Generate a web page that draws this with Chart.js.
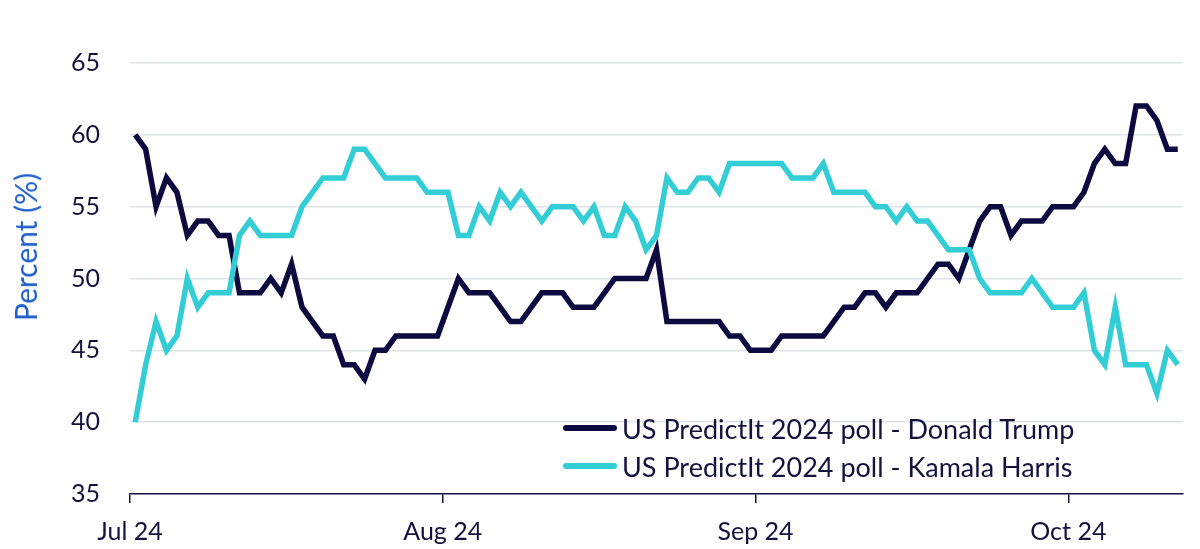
<!DOCTYPE html>
<html>
<head>
<meta charset="utf-8">
<script src="https://cdn.jsdelivr.net/npm/chart.js@4.4.1/dist/chart.umd.min.js"></script>
<style>
    html, body { margin: 0; padding: 0; background: #ffffff; }
    #wrap { position: relative; width: 1200px; height: 549px; }
    #legend {
        position: absolute; left: 563px; top: 409px;
        font-family: Lato, "Open Sans", sans-serif; font-size: 27px; color: #13123f;
    }
    .item { display: flex; align-items: center; height: 38px; white-space: nowrap; }
    .swatch { width: 54px; height: 6px; border-radius: 3px; margin-right: 5px; }
    #ytitle {
        position: absolute; left: 25px; top: 247px;
        transform: translate(-50%, -50%) rotate(-90deg);
        font-family: Lato, "Open Sans", sans-serif; font-size: 30px; color: #1f5fcc;
        white-space: nowrap;
    }
</style>
</head>
<body>
<div id="wrap">
    <canvas id="chart" width="1200" height="549"></canvas>
    <div id="ytitle">Percent (%)</div>
    <div id="legend"></div>
</div>
<script>
// Daily PredictIt prices, Jul 1 onwards (one value per day)
const trump = [
    60, 59, 55, 57, 56, 53, 54, 54, 53, 53,
    49, 49, 49, 50, 49, 51, 48, 47, 46, 46,
    44, 44, 43, 45, 45, 46, 46, 46, 46, 46,
    48, 50, 49, 49, 49, 48, 47, 47, 48, 49,
    49, 49, 48, 48, 48, 49, 50, 50, 50, 50,
    52, 47, 47, 47, 47, 47, 47, 46, 46, 45,
    45, 45, 46, 46, 46, 46, 46, 47, 48, 48,
    49, 49, 48, 49, 49, 49, 50, 51, 51, 50,
    52, 54, 55, 55, 53, 54, 54, 54, 55, 55,
    55, 56, 58, 59, 58, 58, 62, 62, 61, 59,
    59
];
const harris = [
    40, 44, 47, 45, 46, 50, 48, 49, 49, 49,
    53, 54, 53, 53, 53, 53, 55, 56, 57, 57,
    57, 59, 59, 58, 57, 57, 57, 57, 56, 56,
    56, 53, 53, 55, 54, 56, 55, 56, 55, 54,
    55, 55, 55, 54, 55, 53, 53, 55, 54, 52,
    53, 57, 56, 56, 57, 57, 56, 58, 58, 58,
    58, 58, 58, 57, 57, 57, 58, 56, 56, 56,
    56, 55, 55, 54, 55, 54, 54, 53, 52, 52,
    52, 50, 49, 49, 49, 49, 50, 49, 48, 48,
    48, 49, 45, 44, 48, 44, 44, 44, 42, 45,
    44
];
const seriesNames = ['US PredictIt 2024 poll - Donald Trump', 'US PredictIt 2024 poll - Kamala Harris'];
const seriesColors = ['#0c0a3e', '#33cdd6'];
const tickLabels = ['Jul 24', 'Aug 24', 'Sep 24', 'Oct 24'];
const tickStarts = [0, 30, 60, 90];   // index of first day under each label

const navy = '#13123f';
const fontFamily = 'Lato, "Open Sans", sans-serif';

function toPoints(values) {
    return values.map((v, i) => ({ x: i, y: v }));
}

const ctx = document.getElementById('chart');

new Chart(ctx, {
    type: 'line',
    data: {
        datasets: [
            {
                label: seriesNames[0],
                data: toPoints(trump),
                borderColor: seriesColors[0],
                borderWidth: 5.5,
                pointRadius: 0,
                tension: 0,
                order: 1
            },
            {
                label: seriesNames[1],
                data: toPoints(harris),
                borderColor: seriesColors[1],
                borderWidth: 5.5,
                pointRadius: 0,
                tension: 0,
                order: 0
            }
        ]
    },
    options: {
        responsive: false,
        animation: false,
        layout: { padding: { top: 63, right: 17, left: 0, bottom: 0 } },
        plugins: {
            legend: { display: false },
            tooltip: { enabled: false }
        },
        scales: {
            x: {
                type: 'linear',
                min: -0.5,
                max: trump.length - 0.5,
                afterBuildTicks: function(scale) {
                    scale.ticks = tickStarts.map(s => ({ value: s - 0.5 }));
                },
                afterFit: function(scale) {
                    scale.height = 55;
                },
                ticks: {
                    autoSkip: false,
                    maxRotation: 0,
                    padding: 14,
                    color: navy,
                    font: { family: fontFamily, size: 25 },
                    callback: function(value) {
                        const k = tickStarts.indexOf(value + 0.5);
                        return k >= 0 ? tickLabels[k] : '';
                    }
                },
                grid: {
                    drawOnChartArea: false,
                    drawTicks: true,
                    tickLength: 9,
                    color: navy,
                    lineWidth: 1.5
                },
                border: { display: true, color: navy, width: 1.5 }
            },
            y: {
                min: 35,
                max: 65,
                afterFit: function(scale) {
                    scale.width = 130;
                },
                ticks: {
                    stepSize: 5,
                    padding: 30,
                    color: navy,
                    font: { family: fontFamily, size: 25 }
                },
                grid: {
                    drawTicks: false,
                    lineWidth: 1.5,
                    color: function(c) {
                        return c.tick && c.tick.value === 35 ? 'rgba(0,0,0,0)' : '#dfe3e8';
                    }
                },
                border: { display: false }
            }
        }
    }
});

// HTML legend placed inside the plot, bottom right
const legend = document.getElementById('legend');
seriesNames.forEach((name, i) => {
    const row = document.createElement('div');
    row.className = 'item';
    const sw = document.createElement('span');
    sw.className = 'swatch';
    sw.style.background = seriesColors[i];
    const txt = document.createElement('span');
    txt.textContent = name;
    row.appendChild(sw);
    row.appendChild(txt);
    legend.appendChild(row);
});
</script>
</body>
</html>
